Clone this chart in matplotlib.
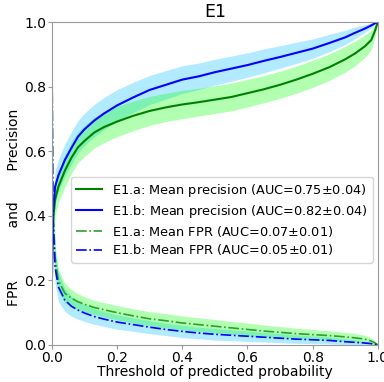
import numpy as np
import matplotlib.pyplot as plt

# threshold grid
thr = [0.0, 0.003, 0.01, 0.02, 0.04, 0.06, 0.08, 0.1, 0.13, 0.16, 0.2, 0.25, 0.3, 0.35,
       0.4, 0.45, 0.5, 0.55, 0.6, 0.65, 0.7, 0.75, 0.8, 0.85, 0.9, 0.93, 0.96, 0.98, 0.99, 1.0]

# mean precision and its spread
prec_a = [0.20, 0.38, 0.45, 0.49, 0.54, 0.58, 0.612, 0.632, 0.658, 0.675, 0.692, 0.71,
          0.725, 0.736, 0.745, 0.752, 0.76, 0.768, 0.78, 0.792, 0.806, 0.822, 0.84, 0.86,
          0.885, 0.903, 0.925, 0.945, 0.97, 1.0]
prec_b = [0.18, 0.40, 0.49, 0.525, 0.573, 0.61, 0.645, 0.668, 0.695, 0.717, 0.742, 0.767,
          0.79, 0.806, 0.822, 0.832, 0.845, 0.856, 0.867, 0.88, 0.892, 0.905, 0.918, 0.935,
          0.953, 0.967, 0.98, 0.99, 0.996, 1.0]
prec_a_sd = [0.0, 0.04, 0.05, 0.05, 0.05, 0.049, 0.048, 0.048, 0.048, 0.048, 0.047, 0.046,
             0.045, 0.044, 0.044, 0.043, 0.043, 0.043, 0.043, 0.042, 0.042, 0.042, 0.042, 0.041,
             0.04, 0.038, 0.035, 0.03, 0.02, 0.0]
prec_b_sd = [0.0, 0.04, 0.05, 0.05, 0.05, 0.05, 0.05, 0.05, 0.05, 0.05, 0.049, 0.047,
             0.045, 0.044, 0.043, 0.041, 0.04, 0.039, 0.038, 0.037, 0.035, 0.033, 0.03, 0.027,
             0.022, 0.018, 0.012, 0.007, 0.004, 0.0]

# mean FPR and its spread
fpr_a = [1.0, 0.45, 0.27, 0.20, 0.16, 0.145, 0.134, 0.126, 0.116, 0.109, 0.1, 0.09,
         0.081, 0.075, 0.068, 0.063, 0.058, 0.053, 0.048, 0.043, 0.039, 0.035, 0.032, 0.029,
         0.025, 0.022, 0.018, 0.012, 0.007, 0.0]
fpr_b = [1.0, 0.40, 0.24, 0.18, 0.139, 0.12, 0.108, 0.099, 0.088, 0.08, 0.071, 0.063,
         0.055, 0.048, 0.042, 0.037, 0.033, 0.03, 0.027, 0.024, 0.021, 0.018, 0.016, 0.014,
         0.01, 0.008, 0.006, 0.004, 0.002, 0.0]
fpr_a_sd = [0.0, 0.05, 0.04, 0.035, 0.03, 0.027, 0.025, 0.023, 0.022, 0.022, 0.022, 0.022,
            0.022, 0.022, 0.022, 0.021, 0.021, 0.02, 0.02, 0.019, 0.018, 0.017, 0.016, 0.015,
            0.014, 0.013, 0.012, 0.01, 0.006, 0.0]
fpr_b_sd = [0.0, 0.06, 0.05, 0.045, 0.035, 0.031, 0.028, 0.026, 0.024, 0.023, 0.022, 0.021,
            0.02, 0.019, 0.019, 0.018, 0.018, 0.017, 0.016, 0.015, 0.014, 0.013, 0.012, 0.011,
            0.009, 0.008, 0.006, 0.004, 0.002, 0.0]

labels = ['E1.a: Mean precision (AUC=0.75$\\pm$0.04)',
          'E1.b: Mean precision (AUC=0.82$\\pm$0.04)',
          'E1.a: Mean FPR (AUC=0.07$\\pm$0.01)',
          'E1.b: Mean FPR (AUC=0.05$\\pm$0.01)']

t = np.array(thr)

def band(ax, mean, sd, color, alpha):
    m = np.array(mean)
    s = np.array(sd)
    ax.fill_between(t, np.clip(m - s, 0, 1), np.clip(m + s, 0, 1),
                    color=color, alpha=alpha, linewidth=0)

fig = plt.figure(figsize=(3.84, 3.82), dpi=100)
ax = fig.add_axes([0.135, 0.097, 0.849, 0.845])

band(ax, prec_b, prec_b_sd, 'deepskyblue', 0.3)
band(ax, prec_a, prec_a_sd, 'lime', 0.3)
band(ax, fpr_b, fpr_b_sd, 'deepskyblue', 0.3)
band(ax, fpr_a, fpr_a_sd, 'lime', 0.3)

ax.plot(t, prec_a, color='green', lw=1.5, label=labels[0])
ax.plot(t, prec_b, color='blue', lw=1.5, label=labels[1])
ax.plot(t, fpr_a, color='#2ca02c', lw=1.2, ls='-.', label=labels[2])
ax.plot(t, fpr_b, color='blue', lw=1.2, ls='-.', label=labels[3])

ax.set_xlim(0, 1)
ax.set_ylim(0, 1)
ax.set_xticks([0, 0.2, 0.4, 0.6, 0.8, 1.0])
ax.set_yticks([0, 0.2, 0.4, 0.6, 0.8, 1.0])
ax.tick_params(labelsize=10, color='#999999', length=3, pad=1)
for sp in ax.spines.values():
    sp.set_color('#999999')
ax.set_title('E1', fontsize=12.5, pad=4)
ax.set_xlabel('Threshold of predicted probability', fontsize=10, labelpad=0)
ax.set_ylabel('FPR' + ' ' * 12 + 'and' + ' ' * 7 + 'Precision', fontsize=10)
ax.yaxis.set_label_coords(-0.095, 0.425)
ax.legend(loc='lower right', fontsize=9.3, bbox_to_anchor=(0.985, 0.255),
          borderaxespad=0, handlelength=2.0, labelspacing=0.3)

fig.savefig('out.png', dpi=100)
